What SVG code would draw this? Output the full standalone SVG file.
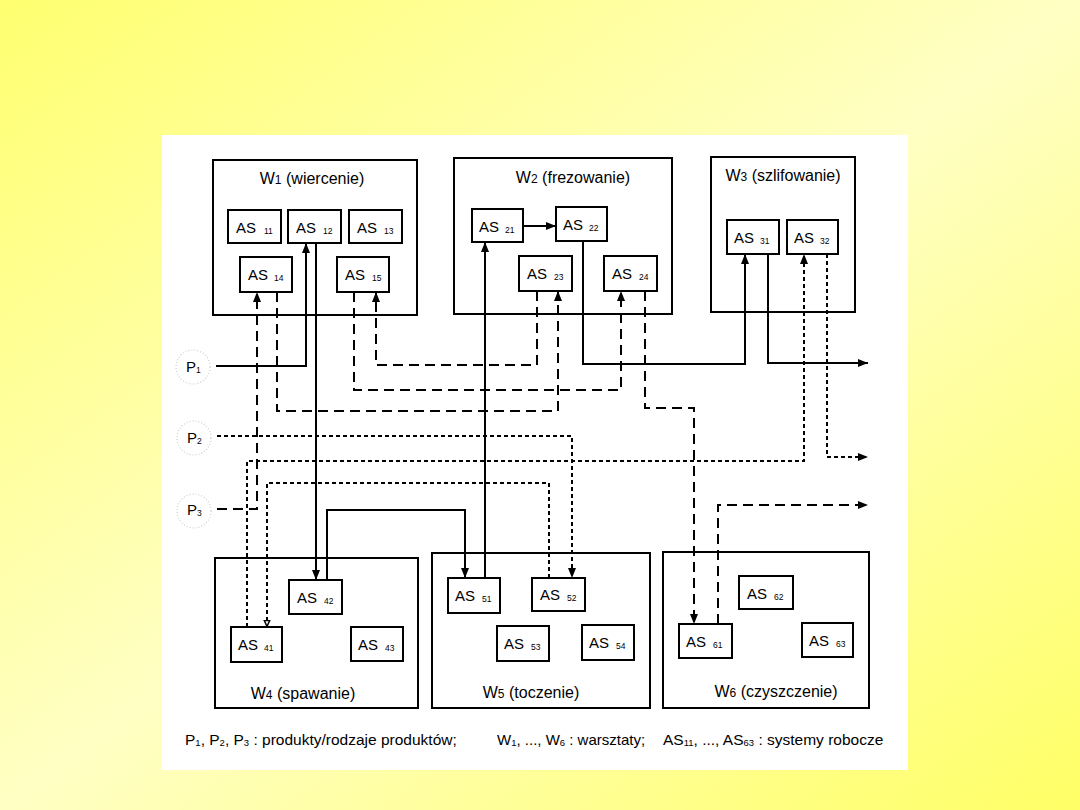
<svg xmlns="http://www.w3.org/2000/svg" width="1080" height="810" viewBox="0 0 1080 810">
<defs>
<linearGradient id="bg" gradientUnits="userSpaceOnUse" x1="151" y1="-113" x2="929" y2="923">
<stop offset="0" stop-color="#FFFF70"/>
<stop offset="0.5" stop-color="#FFFFC4"/>
<stop offset="1" stop-color="#FFFF66"/>
</linearGradient>
<marker id="ah" markerUnits="userSpaceOnUse" markerWidth="11" markerHeight="9" refX="10" refY="4" orient="auto">
<path d="M0,0 L10,4 L0,8 z" fill="#000"/>
</marker>
<marker id="ao" markerUnits="userSpaceOnUse" markerWidth="9" markerHeight="8" refX="7.5" refY="3.5" orient="auto">
<path d="M1,0.8 L7,3.5 L1,6.2 z" fill="#fff" stroke="#000" stroke-width="1.5"/>
</marker>
</defs>
<style>
.ws{fill:#fff;stroke:#000;stroke-width:2}
.as{fill:#fff;stroke:#000;stroke-width:2}
.t{font-family:"Liberation Sans",Arial,sans-serif;fill:#000}
.ast{font-size:15px}
.sub{font-size:8.5px}
.ttl{font-size:16px}
.leg{font-size:15.5px}
.ls{font-size:9.5px}
.c{fill:none;stroke:#000;stroke-width:2}
.dash{stroke-dasharray:10 6}
.dot{stroke-dasharray:4 3}
.pc{fill:none;stroke:#cfcfcf;stroke-width:1.2;stroke-dasharray:1 2}
</style>
<rect x="0" y="0" width="1080" height="810" fill="url(#bg)"/>
<rect x="162" y="135" width="746" height="635" fill="#fff"/>

<g id="W1">
<rect class="ws" x="213" y="160" width="204" height="155"/>
<text class="t ttl" x="312" y="184" text-anchor="middle">W<tspan font-size="12">1</tspan> (wiercenie)</text>
</g>
<g id="AS11"><rect class="as" x="228" y="210" width="53" height="33"/><text class="t ast" x="236" y="233">AS<tspan class="sub" x="264" dy="1">11</tspan></text></g>
<g id="AS12"><rect class="as" x="288" y="210" width="53" height="33"/><text class="t ast" x="296" y="233">AS<tspan class="sub" x="323" dy="1">12</tspan></text></g>
<g id="AS13"><rect class="as" x="349" y="210" width="53" height="33"/><text class="t ast" x="357" y="233">AS<tspan class="sub" x="384" dy="1">13</tspan></text></g>
<g id="AS14"><rect class="as" x="240" y="257" width="52" height="35"/><text class="t ast" x="248" y="280">AS<tspan class="sub" x="274" dy="1">14</tspan></text></g>
<g id="AS15"><rect class="as" x="337" y="257" width="52" height="35"/><text class="t ast" x="345" y="280">AS<tspan class="sub" x="372" dy="1">15</tspan></text></g>

<g id="W2">
<rect class="ws" x="454" y="158" width="218" height="156"/>
<text class="t ttl" x="573" y="183" text-anchor="middle">W<tspan font-size="12">2</tspan> (frezowanie)</text>
</g>
<g id="AS21"><rect class="as" x="472" y="209" width="51" height="33"/><text class="t ast" x="479" y="232">AS<tspan class="sub" x="505" dy="1">21</tspan></text></g>
<g id="AS22"><rect class="as" x="556" y="207" width="51" height="34"/><text class="t ast" x="563" y="230">AS<tspan class="sub" x="589" dy="1">22</tspan></text></g>
<g id="AS23"><rect class="as" x="519" y="256" width="53" height="35"/><text class="t ast" x="527" y="279">AS<tspan class="sub" x="554" dy="1">23</tspan></text></g>
<g id="AS24"><rect class="as" x="604" y="256" width="53" height="35"/><text class="t ast" x="612" y="279">AS<tspan class="sub" x="639" dy="1">24</tspan></text></g>

<g id="W3">
<rect class="ws" x="711" y="157" width="144" height="155"/>
<text class="t ttl" x="783" y="181" text-anchor="middle">W<tspan font-size="12">3</tspan> (szlifowanie)</text>
</g>
<g id="AS31"><rect class="as" x="727" y="220" width="52" height="34"/><text class="t ast" x="734" y="243">AS<tspan class="sub" x="760" dy="1">31</tspan></text></g>
<g id="AS32"><rect class="as" x="787" y="220" width="51" height="34"/><text class="t ast" x="794" y="243">AS<tspan class="sub" x="820" dy="1">32</tspan></text></g>

<g id="W4">
<rect class="ws" x="215" y="558" width="203" height="150"/>
<text class="t ttl" x="303" y="699" text-anchor="middle">W<tspan font-size="12">4</tspan> (spawanie)</text>
</g>
<g id="AS41"><rect class="as" x="231" y="627" width="51" height="35"/><text class="t ast" x="238" y="650">AS<tspan class="sub" x="264" dy="1">41</tspan></text></g>
<g id="AS42"><rect class="as" x="289" y="580" width="53" height="34"/><text class="t ast" x="297" y="603">AS<tspan class="sub" x="324" dy="1">42</tspan></text></g>
<g id="AS43"><rect class="as" x="351" y="627" width="52" height="34"/><text class="t ast" x="358" y="650">AS<tspan class="sub" x="385" dy="1">43</tspan></text></g>

<g id="W5">
<rect class="ws" x="432" y="553" width="218" height="155"/>
<text class="t ttl" x="531" y="698" text-anchor="middle">W<tspan font-size="12">5</tspan> (toczenie)</text>
</g>
<g id="AS51"><rect class="as" x="448" y="578" width="52" height="35"/><text class="t ast" x="455" y="601">AS<tspan class="sub" x="482" dy="1">51</tspan></text></g>
<g id="AS52"><rect class="as" x="532" y="578" width="53" height="33"/><text class="t ast" x="540" y="600">AS<tspan class="sub" x="567" dy="1">52</tspan></text></g>
<g id="AS53"><rect class="as" x="497" y="626" width="52" height="35"/><text class="t ast" x="504" y="649">AS<tspan class="sub" x="531" dy="1">53</tspan></text></g>
<g id="AS54"><rect class="as" x="582" y="625" width="52" height="35"/><text class="t ast" x="589" y="648">AS<tspan class="sub" x="616" dy="1">54</tspan></text></g>

<g id="W6">
<rect class="ws" x="663" y="552" width="206" height="156"/>
<text class="t ttl" x="776" y="697" text-anchor="middle">W<tspan font-size="12">6</tspan> (czyszczenie)</text>
</g>
<g id="AS61"><rect class="as" x="679" y="624" width="53" height="34"/><text class="t ast" x="686" y="647">AS<tspan class="sub" x="713" dy="1">61</tspan></text></g>
<g id="AS62"><rect class="as" x="739" y="576" width="54" height="33"/><text class="t ast" x="747" y="599">AS<tspan class="sub" x="774" dy="1">62</tspan></text></g>
<g id="AS63"><rect class="as" x="802" y="623" width="51" height="34"/><text class="t ast" x="809" y="646">AS<tspan class="sub" x="836" dy="1">63</tspan></text></g>

<g id="P1"><circle class="pc" cx="193" cy="367" r="17"/><text class="t ast" x="186" y="372">P<tspan class="sub" x="196" dy="1">1</tspan></text></g>
<g id="P2"><circle class="pc" cx="194" cy="438" r="17"/><text class="t ast" x="187" y="443">P<tspan class="sub" x="197" dy="1">2</tspan></text></g>
<g id="P3"><circle class="pc" cx="194" cy="511" r="17"/><text class="t ast" x="187" y="515">P<tspan class="sub" x="197" dy="1">3</tspan></text></g>

<g id="connectors">
<path class="c" d="M216,366 H306 V243" marker-end="url(#ah)"/>
<path class="c" d="M316,243 V580" marker-end="url(#ah)"/>
<path class="c" d="M327,580 V510 H465 V578" marker-end="url(#ah)"/>
<path class="c" d="M485,578 V242" marker-end="url(#ah)"/>
<path class="c" d="M523,226 H556" marker-end="url(#ah)"/>
<path class="c" d="M583,241 V364 H745 V254" marker-end="url(#ah)"/>
<path class="c" d="M768,254 V363 H868" marker-end="url(#ah)"/>
<path class="c dash" d="M217,509 H257 V292" marker-end="url(#ah)"/>
<path class="c dash" d="M277,292 V411 H558 V291" marker-end="url(#ah)"/>
<path class="c dash" d="M354,292 V390 H621 V291" marker-end="url(#ah)"/>
<path class="c dash" d="M537,291 V365 H376 V292" marker-end="url(#ah)"/>
<path class="c dash" d="M645,291 V408 H694 V624" marker-end="url(#ah)"/>
<path class="c dash" d="M718,624 V505 H868" marker-end="url(#ah)"/>
<path class="c dot" d="M217,436 H572 V578" marker-end="url(#ah)"/>
<path class="c dot" d="M247,627 V461 H804 V254" marker-end="url(#ah)"/>
<path class="c dot" d="M827,254 V457 H868" marker-end="url(#ah)"/>
<path class="c dot" d="M549,578 V483 H267 V627" marker-end="url(#ao)"/>
</g>

<g id="legend">
<text class="t leg" x="185" y="745">P<tspan class="ls" dy="1">1</tspan><tspan dy="-1">, P</tspan><tspan class="ls" dy="1">2</tspan><tspan dy="-1">, P</tspan><tspan class="ls" dy="1">3</tspan><tspan dy="-1"> : produkty/rodzaje produktów;</tspan></text>
<text class="t" font-size="15" x="497" y="745">W<tspan class="ls" dy="1">1</tspan><tspan dy="-1">, ..., W</tspan><tspan class="ls" dy="1">6</tspan><tspan dy="-1"> : warsztaty;</tspan></text>
<text class="t" font-size="15.5" x="663" y="745">AS<tspan class="ls" dy="1">11</tspan><tspan dy="-1">, ..., AS</tspan><tspan class="ls" dy="1">63</tspan><tspan dy="-1"> : systemy robocze</tspan></text>
</g>
</svg>
